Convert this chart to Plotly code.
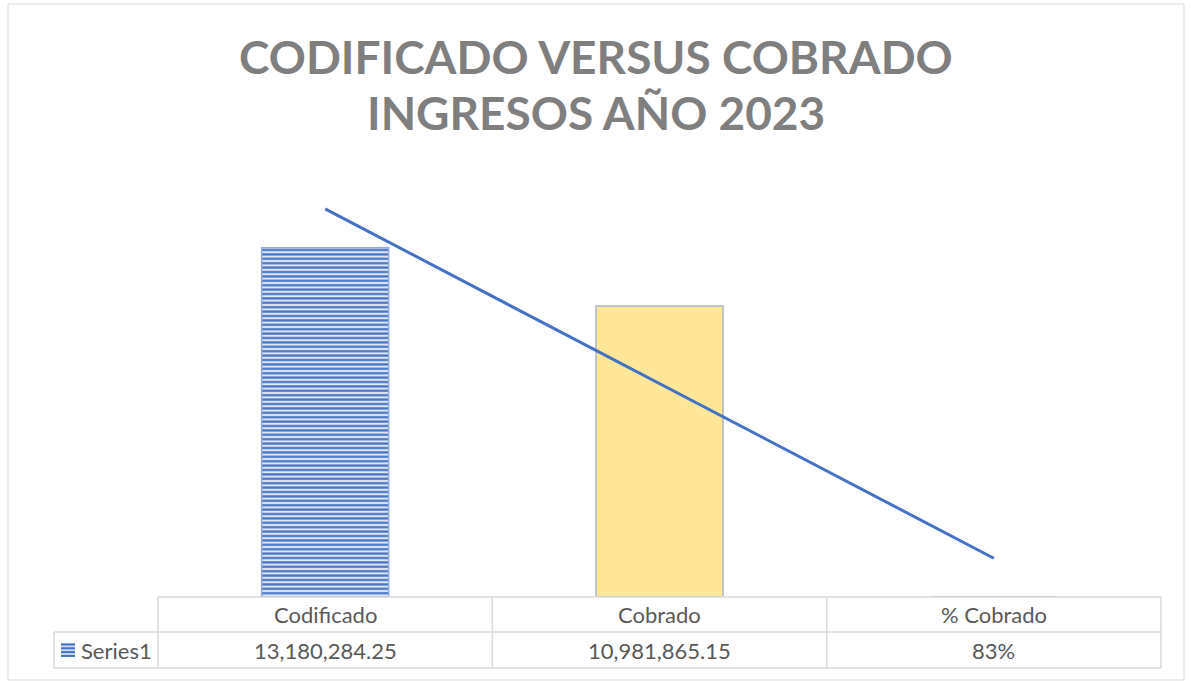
import plotly.graph_objects as go
import numpy as np

# ---- data ----
categories = ["Codificado", "Cobrado", "% Cobrado"]
values = [13180284.25, 10981865.15, 0.83]
value_labels = ["13,180,284.25", "10,981,865.15", "83%"]
series_name = "Series1"
title_lines = ["CODIFICADO VERSUS COBRADO", "INGRESOS AÑO 2023"]

# linear trendline through the series (Excel-like)
xi = np.arange(1, len(values) + 1)
slope, intercept = np.polyfit(xi, values, 1)
trend = slope * xi + intercept

W, H = 1191, 681
L, R, T, B = 158, 30, 173, 84
PW, PH = W - L - R, H - T - B


def px(xp):
    return (xp - L) / PW


def py(yp):
    return (H - B - yp) / PH


n = len(categories)
fig = go.Figure()
# first point: striped blue bar
fig.add_trace(go.Bar(
    x=categories[:1], y=values[:1], width=0.38, name=series_name, showlegend=False,
    marker=dict(
        color="#dfe7f5",
        line=dict(color="#8faadc", width=1.5),
        pattern=dict(shape="-", fgcolor="#4472c4", fgopacity=1, fillmode="overlay",
                     size=4.4, solidity=0.5),
    ),
    hoverinfo="skip",
))
# remaining points: gold bars
fig.add_trace(go.Bar(
    x=categories[1:], y=values[1:], width=0.38, name=series_name, showlegend=False,
    marker=dict(color="#ffe699", line=dict(color="#a9b6ca", width=1.5)),
    hoverinfo="skip",
))
fig.add_trace(go.Scatter(
    x=categories, y=trend, mode="lines", showlegend=False,
    line=dict(color="#4472c4", width=3), hoverinfo="skip",
))

line_col = "#d9d9d9"
shapes = []
# outer chart border
shapes.append(dict(type="rect", xref="paper", yref="paper", x0=px(8), x1=px(1184),
                   y0=py(680), y1=py(4), line=dict(color=line_col, width=1)))
# data table
col_x = [px(L + PW * i / n) for i in range(n + 1)]
y_top, y_mid, y_bot = py(597), py(632), py(668)
shapes.append(dict(type="line", xref="paper", yref="paper", x0=col_x[0], x1=col_x[-1],
                   y0=y_top, y1=y_top, line=dict(color=line_col, width=1.5)))
for yy in (y_mid, y_bot):
    shapes.append(dict(type="line", xref="paper", yref="paper", x0=px(54), x1=col_x[-1],
                       y0=yy, y1=yy, line=dict(color=line_col, width=1.5)))
for cx in col_x:
    shapes.append(dict(type="line", xref="paper", yref="paper", x0=cx, x1=cx,
                       y0=y_top, y1=y_bot, line=dict(color=line_col, width=1.5)))
shapes.append(dict(type="line", xref="paper", yref="paper", x0=px(54), x1=px(54),
                   y0=y_mid, y1=y_bot, line=dict(color=line_col, width=1.5)))
# legend key (striped square)
shapes.append(dict(type="rect", xref="paper", yref="paper", x0=px(61), x1=px(75),
                   y0=py(657), y1=py(643), fillcolor="#d3def3", line=dict(width=0)))
for k in range(4):
    yy = 644.5 + k * 3.8
    shapes.append(dict(type="line", xref="paper", yref="paper", x0=px(61), x1=px(75),
                       y0=py(yy), y1=py(yy), line=dict(color="#4472c4", width=2)))

tfont = dict(family="Lato, Carlito, Calibri, sans-serif", size=22, color="#595959")
ann = []
for i, (c, v) in enumerate(zip(categories, value_labels)):
    xc = (col_x[i] + col_x[i + 1]) / 2
    ann.append(dict(x=xc, y=(y_top + y_mid) / 2, xref="paper", yref="paper", text=c,
                    showarrow=False, font=tfont, xanchor="center", yanchor="middle"))
    ann.append(dict(x=xc, y=(y_mid + y_bot) / 2, xref="paper", yref="paper", text=v,
                    showarrow=False, font=tfont, xanchor="center", yanchor="middle"))
ann.append(dict(x=px(79), y=(y_mid + y_bot) / 2, xref="paper", yref="paper", text=series_name,
                showarrow=False, font=tfont, xanchor="left", yanchor="middle"))

# title, two lines
title_font = dict(family="Lato, Carlito, Calibri, sans-serif", size=46,
                  color="#7f7f7f", weight="bold")
for line_text, yc in zip(title_lines, (56, 113)):
    ann.append(dict(x=px(595.5), y=py(yc), xref="paper", yref="paper", text=line_text,
                    showarrow=False, font=title_font, xanchor="center", yanchor="middle"))

fig.update_layout(
    width=W, height=H,
    margin=dict(l=L, r=R, t=T, b=B),
    paper_bgcolor="white", plot_bgcolor="white",
    xaxis=dict(visible=False, range=[-0.5, 2.5], type="category",
               categoryorder="array", categoryarray=categories),
    yaxis=dict(visible=False, range=[0, 16000000]),
    shapes=shapes, annotations=ann,
    barmode="overlay",
)

fig.write_html("out.html", config={"displayModeBar": False},
               post_script="document.body.style.margin='0';")
